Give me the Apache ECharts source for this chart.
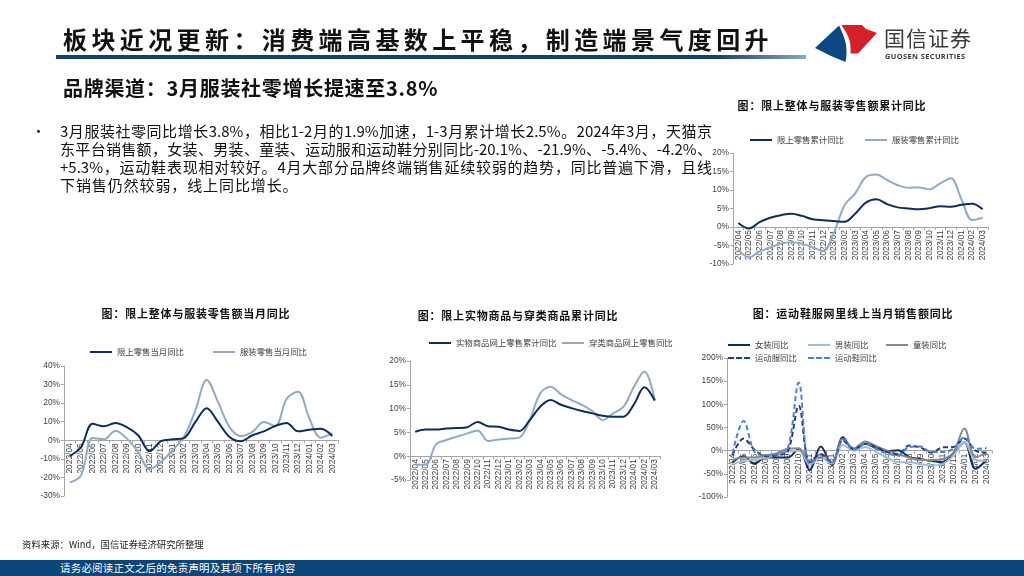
<!DOCTYPE html>
<html><head><meta charset="utf-8">
<script src="https://cdn.jsdelivr.net/npm/echarts/dist/echarts.min.js"></script>
<style>
body{margin:0;background:#fff;}
#slide{position:relative;width:1024px;height:576px;overflow:hidden;background:#fff;font-family:"Noto Sans CJK SC","Noto Sans",sans-serif;color:#000;}
#chart{position:absolute;left:0;top:0;width:1024px;height:576px;}
.t{position:absolute;white-space:nowrap;z-index:2;pointer-events:none;}
.pl{position:absolute;left:60px;width:652px;font-size:15px;line-height:18px;height:18px;white-space:nowrap;text-align:justify;text-align-last:justify;z-index:2;color:#111;}
.ct{position:absolute;font-size:11px;font-weight:bold;letter-spacing:0.8px;line-height:14px;white-space:nowrap;transform:translateX(-50%);z-index:2;color:#111;}
</style></head><body>
<div id="slide">
<div id="chart"></div>

<div class="t" style="left:63px;top:24px;font-size:24px;line-height:30px;font-weight:bold;letter-spacing:4.4px;color:#111;">板块近况更新：消费端高基数上平稳，制造端景气度回升</div>
<div class="t" style="left:56px;top:55px;width:750px;height:3.5px;background:linear-gradient(to right,#123f70 0%,#123f70 88%,#8aa6c6 100%);"></div>

<svg class="t" style="left:0;top:0;" width="1024" height="80">
  <path d="M815,48 L839,25.5 C842,32 845,38 846,45 C847,52 846.5,57 845.5,62 L831,56 Z" fill="#0d4680"/>
  <path d="M841.5,25 L862,25 L866,29 L877,33 L858,53.5 L850.5,53.5 C851,46 850,40 847.5,35 C845,30 843,28 841.5,25 Z" fill="#d51f2b"/>
</svg>
<div class="t" style="left:884px;top:24px;font-size:21px;line-height:26px;color:#3a3a3a;letter-spacing:1px;">国信证券</div>
<div class="t" style="left:885px;top:51px;font-size:7.4px;line-height:10px;color:#3a3a3a;font-weight:bold;font-family:'Open Sans','Liberation Sans',sans-serif;letter-spacing:0.4px;">GUOSEN SECURITIES</div>

<div class="t" style="left:63px;top:76px;font-size:20px;line-height:24px;font-weight:bold;letter-spacing:0.7px;color:#111;">品牌渠道：3月服装社零增长提速至3.8%</div>

<div class="t" style="left:32px;top:122px;font-size:13px;line-height:18px;">•</div>
<div class="pl" style="top:122px;">3月服装社零同比增长3.8%，相比1-2月的1.9%加速，1-3月累计增长2.5%。2024年3月，天猫京</div>
<div class="pl" style="top:140px;">东平台销售额，女装、男装、童装、运动服和运动鞋分别同比-20.1%、-21.9%、-5.4%、-4.2%、</div>
<div class="pl" style="top:158px;">+5.3%，运动鞋表现相对较好。4月大部分品牌终端销售延续较弱的趋势，同比普遍下滑，且线</div>
<div class="t" style="left:60px;top:176px;font-size:15px;line-height:18px;letter-spacing:0.9px;color:#111;">下销售仍然较弱，线上同比增长。</div>

<div class="ct" style="left:832px;top:98px;">图：限上整体与服装零售额累计同比</div>
<div class="ct" style="left:196px;top:306px;">图：限上整体与服装零售额当月同比</div>
<div class="ct" style="left:518px;top:308px;">图：限上实物商品与穿类商品累计同比</div>
<div class="ct" style="left:853px;top:306px;">图：运动鞋服网里线上当月销售额同比</div>

<div class="t" style="left:22px;top:537px;font-size:9.4px;line-height:14px;color:#222;">资料来源：Wind，国信证券经济研究所整理</div>
<div class="t" style="left:0;top:560px;width:1024px;height:16px;background:#0c4679;"></div>
<div class="t" style="left:60px;top:560px;font-size:10.5px;line-height:16px;color:#fff;letter-spacing:0.2px;">请务必阅读正文之后的免责声明及其项下所有内容</div>
</div>

<script>
const months = ['2022/04','2022/05','2022/06','2022/07','2022/08','2022/09','2022/10','2022/11','2022/12','2023/01','2023/02','2023/03','2023/04','2023/05','2023/06','2023/07','2023/08','2023/09','2023/10','2023/11','2023/12','2024/01','2024/02','2024/03'];

// Chart 1: 限上整体与服装零售额累计同比 (%)
const c1Retail  = [1.1,-0.4,1.3,2.5,3.2,3.6,3.0,2.1,1.8,1.6,1.4,3.6,6.6,7.5,6.2,5.3,5.0,4.8,5.1,5.6,5.5,6.0,6.3,4.8];
const c1Apparel = [-6.2,-8.2,-6.6,-5.5,-4.5,-4.1,-4.5,-5.5,-6.5,-1.5,5.9,9.1,13.5,14.2,12.7,11.3,10.6,10.7,10.2,11.8,13.2,7.5,1.9,2.5];

// Chart 2: 限上整体与服装零售额当月同比 (%)
const c2Retail  = [-8.5,-3.6,8.9,7.5,9.3,7.1,2.7,-5.9,-0.4,0.5,1.2,9.8,17.3,9.8,1.8,-0.5,2.7,4.8,7.7,9.3,4.8,5.7,6.2,2.3];
const c2Apparel = [-22.8,-18.8,1.2,0.5,5.2,0.9,-6.3,-15.6,-11.6,-5.4,1.8,16.0,32.5,20.5,7.1,2.3,4.5,9.8,7.7,22.3,26.2,11.6,1.4,3.8];

// Chart 3: 限上实物商品与穿类商品累计同比 (%)
const c3Goods = [5.1,5.6,5.6,5.8,5.9,6.1,7.2,6.3,6.2,5.6,5.3,7.6,10.4,11.8,10.8,10.1,9.5,9.0,8.5,8.3,8.3,10.9,14.5,11.7];
const c3Wear  = [-1.8,-1.8,2.5,3.4,4.1,4.8,5.4,3.2,3.5,3.7,3.9,7.6,13.2,14.6,13.0,11.8,10.8,9.5,7.6,9.0,10.4,14.6,17.8,11.7];

// Chart 4: 运动鞋服网里线上当月销售额同比 (%)
const c4Women      = [-25,-12,-28,-14,-15,-15,4,-42,9,-31,29,2,15,6,-1,1,-14,-18,-22,-25,-7,18,-39,-20.1];
const c4Men        = [-30,-22,-20,-15,-10,-2,0,-30,-15,-28,12,0,8,-3,-15,-25,-25,-29,-32,-29,-11,18,-20,-21.9];
const c4Kids       = [-20,-15,-15,-10,-6,4,5,-25,-8,-25,25,5,20,10,0,-8,-15,-20,-20,-18,-4,48,-14,-5.4];
const c4Sportswear = [-10,26,2,-12,-10,-2,97,-25,-8,-25,22,3,15,8,-3,-8,11,7,-4,7,8,26,0,-4.2];
const c4Shoes      = [-6,64,-3,-10,-8,4,147,-28,-15,-25,25,2,15,4,-6,-10,8,9,-3,-3,4,29,4,5.3];

// y-axis ranges (min, max, step)
const yRanges = [[-10,20,5],[-30,40,10],[-5,20,5],[-100,200,50]];

const names = {
  c1a:'限上零售累计同比', c1b:'服装零售累计同比',
  c2a:'限上零售当月同比', c2b:'服装零售当月同比',
  c3a:'实物商品网上零售累计同比', c3b:'穿类商品网上零售同比',
  w:'女装同比', m:'男装同比', k:'童装同比', s:'运动服同比', h:'运动鞋同比'
};

const DARK = '#0f2d5a', LIGHT = '#93aac5';
const AX = '#a6a6a6', LBL = '#404040';
const numFont = 'Liberation Sans, Arial, sans-serif';
const grids = [
  {left:733,top:153,width:255,height:111},
  {left:64,top:366,width:274,height:130},
  {left:410,top:361,width:250,height:119},
  {left:727,top:358,width:265,height:139}
];

function xA(i){
  const g = grids[i], r = yRanges[i];
  const zeroOffset = -g.height * (0 - r[0]) / (r[1] - r[0]);
  return {type:'category',gridIndex:i,data:months,boundaryGap:true,position:'bottom',offset:zeroOffset,
    axisLine:{onZero:false,lineStyle:{color:AX,width:1}},
    axisTick:{show:true,length:3,lineStyle:{color:AX}},
    axisLabel:{interval:0,rotate:90,fontSize:8.4,color:LBL,margin:3,fontFamily:numFont},
    splitLine:{show:false}};
}
function yA(i){
  const r = yRanges[i];
  return {type:'value',gridIndex:i,min:r[0],max:r[1],interval:r[2],
    axisLine:{show:true,lineStyle:{color:AX,width:1}},
    axisTick:{show:true,length:3,lineStyle:{color:AX}},
    splitLine:{show:false},
    axisLabel:{formatter:'{value}%',fontSize:8.4,color:LBL,margin:4,fontFamily:numFont}};
}
function ln(name,data,i,color,dash,z){
  return {name:name,type:'line',xAxisIndex:i,yAxisIndex:i,data:data,smooth:0.35,symbol:'none',
    z: z||2,
    lineStyle:{color:color,width:2,type:dash?[5,3]:'solid'},itemStyle:{color:color}};
}
const SOLID_ICON = 'path://M0,0h22v2h-22z';
const DASH_ICON = 'path://M0,0h6v2h-6z M8,0h6v2h-6z M16,0h6v2h-6z';
function lg(name,left,cy,dash){
  return {data:[{name:name,icon:dash?DASH_ICON:SOLID_ICON}],left:left,top:cy-6,itemWidth:22,itemHeight:2,itemGap:4,padding:0,selectedMode:false,
    textStyle:{fontSize:8.4,color:LBL,fontFamily:'Noto Sans CJK SC',lineHeight:12}};
}

const chart = echarts.init(document.getElementById('chart'));
chart.setOption({
  animation:false,
  backgroundColor:'transparent',
  grid:grids,
  xAxis:[xA(0),xA(1),xA(2),xA(3)],
  yAxis:[yA(0),yA(1),yA(2),yA(3)],
  legend:[
    lg(names.c1a,750,140), lg(names.c1b,865,140),
    lg(names.c2a,90,352), lg(names.c2b,213,352),
    lg(names.c3a,429,343), lg(names.c3b,562,343),
    lg(names.w,728,345), lg(names.m,808,345), lg(names.k,886,345),
    lg(names.s,728,358,true), lg(names.h,808,358,true)
  ],
  series:[
    ln(names.c1b,c1Apparel,0,LIGHT), ln(names.c1a,c1Retail,0,DARK,false,3),
    ln(names.c2b,c2Apparel,1,LIGHT), ln(names.c2a,c2Retail,1,DARK,false,3),
    ln(names.c3b,c3Wear,2,LIGHT), ln(names.c3a,c3Goods,2,DARK,false,3),
    ln(names.w,c4Women,3,'#0f2d5a'),
    ln(names.m,c4Men,3,'#a3bcd9'),
    ln(names.k,c4Kids,3,'#8a8a8a'),
    ln(names.s,c4Sportswear,3,'#1f3f7a',true,3),
    ln(names.h,c4Shoes,3,'#4f7fd0',true,3)
  ]
});
</script>
</body></html>
